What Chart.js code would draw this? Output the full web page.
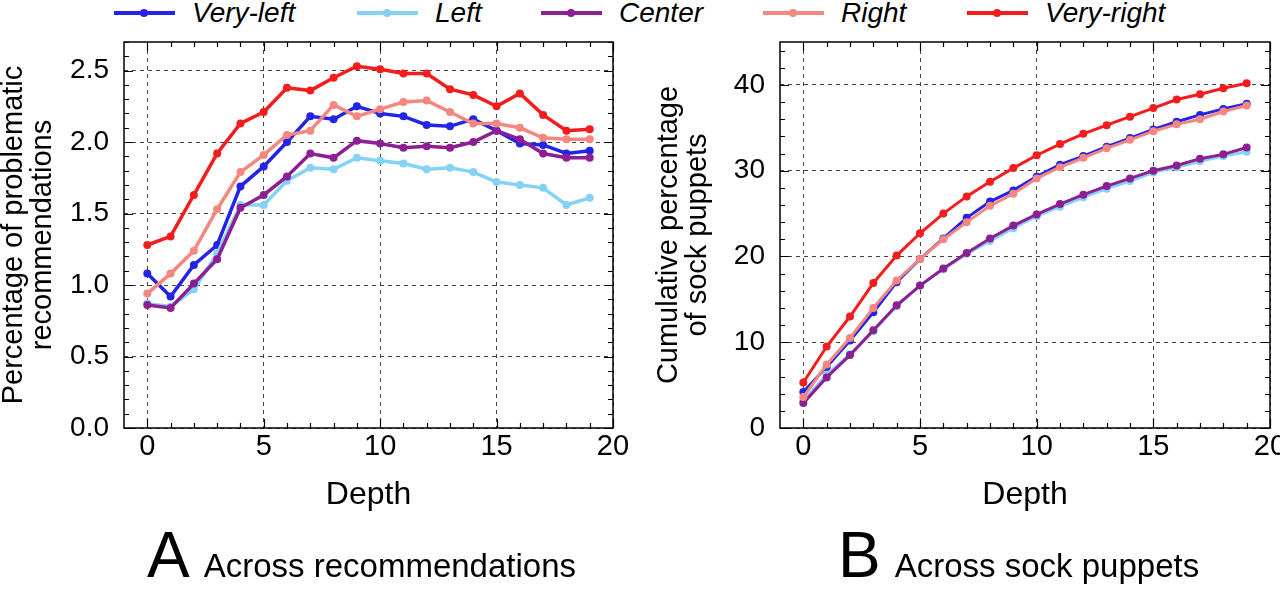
<!DOCTYPE html>
<html>
<head>
<meta charset="utf-8">
<script src="https://cdn.jsdelivr.net/npm/chart.js@4.4.1/dist/chart.umd.min.js"></script>
<style>
  body { margin: 0; width: 1280px; height: 590px; background: #fff; position: relative; overflow: hidden;
         font-family: "Liberation Sans", Arial, sans-serif; color: #000; }
  .cv { position: absolute; top: 30px; }
  #chartA { left: 0; }
  #chartB { left: 655px; }
  .leg { position: absolute; top: 0; height: 26px; display: flex; align-items: center; font-style: italic; font-size: 28px; white-space: nowrap; }
  .sw { position: relative; width: 61px; height: 4px; margin-right: 17px; }
  .sw i { position: absolute; left: 26px; top: -2px; width: 8px; height: 8px; border-radius: 50%; background: inherit; }
  .cap { position: absolute; top: 518px; display: flex; align-items: baseline; white-space: nowrap; }
  .cap b { font-weight: normal; font-size: 64px; margin-right: 14px; }
  .cap span { font-size: 33px; }
</style>
</head>
<body>
<canvas id="chartA" class="cv" width="650" height="490"></canvas>
<canvas id="chartB" class="cv" width="640" height="490"></canvas>
<div id="legend"></div>
<div class="cap" style="left:147px"><b>A</b><span>Across recommendations</span></div>
<div class="cap" style="left:838px"><b>B</b><span>Across sock puppets</span></div>
<script>
  // ---- data ----
  const depth = [0, 1, 2, 3, 4, 5, 6, 7, 8, 9, 10, 11, 12, 13, 14, 15, 16, 17, 18, 19];
  const groups = ['Very-left', 'Left', 'Center', 'Right', 'Very-right'];
  const colors = ['#2424e8', '#84d2f6', '#8c1f94', '#f4877f', '#f41c1c'];
  const legendX = [114, 357, 541, 763, 967];

  // A: percentage of problematic recommendations
  const veryLeftA  = [1.08, 0.92, 1.14, 1.28, 1.69, 1.83, 2.00, 2.18, 2.16, 2.25, 2.20, 2.18, 2.12, 2.11, 2.16, 2.08, 1.99, 1.98, 1.92, 1.94];
  const leftA      = [0.87, 0.85, 0.97, 1.22, 1.56, 1.56, 1.73, 1.82, 1.81, 1.89, 1.87, 1.85, 1.81, 1.82, 1.79, 1.72, 1.70, 1.68, 1.56, 1.61];
  const centerA    = [0.86, 0.84, 1.01, 1.18, 1.54, 1.63, 1.76, 1.92, 1.89, 2.01, 1.99, 1.96, 1.97, 1.96, 2.00, 2.08, 2.02, 1.92, 1.89, 1.89];
  const rightA     = [0.94, 1.08, 1.24, 1.53, 1.79, 1.91, 2.05, 2.08, 2.26, 2.18, 2.23, 2.28, 2.29, 2.21, 2.13, 2.13, 2.10, 2.03, 2.02, 2.02];
  const veryRightA = [1.28, 1.34, 1.63, 1.92, 2.13, 2.21, 2.38, 2.36, 2.45, 2.53, 2.51, 2.48, 2.48, 2.37, 2.33, 2.25, 2.34, 2.19, 2.08, 2.09];

  // B: cumulative percentage of sock puppets
  const veryLeftB  = [4.2, 7.1, 10.2, 13.5, 17.0, 19.7, 22.1, 24.5, 26.4, 27.7, 29.3, 30.7, 31.7, 32.8, 33.8, 34.8, 35.7, 36.5, 37.2, 37.8];
  const leftB      = [3.2, 6.2, 8.6, 11.3, 14.2, 16.6, 18.5, 20.3, 21.8, 23.3, 24.7, 25.8, 26.9, 27.9, 28.8, 29.8, 30.4, 31.1, 31.7, 32.2];
  const centerB    = [2.9, 5.9, 8.5, 11.4, 14.3, 16.6, 18.6, 20.4, 22.1, 23.6, 24.9, 26.1, 27.2, 28.2, 29.1, 30.0, 30.6, 31.4, 31.9, 32.7];
  const rightB     = [3.6, 7.4, 10.5, 14.0, 17.2, 19.7, 22.0, 24.0, 25.9, 27.3, 29.1, 30.4, 31.5, 32.6, 33.6, 34.6, 35.4, 36.0, 36.9, 37.6];
  const veryRightB = [5.3, 9.5, 13.0, 16.9, 20.1, 22.7, 25.0, 27.0, 28.7, 30.3, 31.8, 33.1, 34.3, 35.3, 36.3, 37.3, 38.3, 38.9, 39.6, 40.2];

  const xTicks  = [0, 5, 10, 15, 20];
  const yTicksA = [0, 0.5, 1.0, 1.5, 2.0, 2.5];
  const yTicksB = [0, 10, 20, 30, 40];

  Chart.defaults.font.family = '"Liberation Sans", Arial, sans-serif';
  Chart.defaults.color = '#000';

  // gnuplot-style frame with inward major/minor ticks on all four sides
  const frameTicks = {
    id: 'frameTicks',
    afterDatasetsDraw(chart, args, o) {
      const { ctx, chartArea: a, scales: { x, y } } = chart;
      ctx.save();
      ctx.strokeStyle = '#000';
      ctx.lineWidth = 1.2;
      ctx.beginPath();
      const xt = (v, len) => {
        const p = Math.round(x.getPixelForValue(v)) + 0.5;
        ctx.moveTo(p, a.bottom); ctx.lineTo(p, a.bottom - len);
        ctx.moveTo(p, a.top); ctx.lineTo(p, a.top + len);
      };
      const yt = (v, len) => {
        const p = Math.round(y.getPixelForValue(v)) + 0.5;
        ctx.moveTo(a.left, p); ctx.lineTo(a.left + len, p);
        ctx.moveTo(a.right, p); ctx.lineTo(a.right - len, p);
      };
      for (let i = 0; i * o.xMinor <= o.xMax; i++) xt(i * o.xMinor, 5);
      for (let i = 0; i * o.yMinor <= o.yMax + 1e-9; i++) yt(i * o.yMinor, 5);
      xTicks.forEach((v) => xt(v, 9));
      o.yMajor.forEach((v) => yt(v, 9));
      ctx.stroke();
      ctx.lineWidth = 1.5;
      ctx.strokeRect(a.left, a.top, a.width, a.height);
      ctx.restore();
    },
  };

  function makeChart(id, series, yTicks, yMax, yMinor, yTitle, fmt, padRight, yWidth, lw) {
    return new Chart(document.getElementById(id), {
      type: 'line',
      data: {
        datasets: series.map((vals, i) => ({
          label: groups[i],
          data: vals.map((v, k) => ({ x: depth[k], y: v })),
          borderColor: colors[i],
          backgroundColor: colors[i],
          pointBackgroundColor: colors[i],
          borderWidth: lw,
          pointRadius: 4,
          pointBorderWidth: 0,
          tension: 0,
          order: series.length - i,
        })),
      },
      options: {
        responsive: false,
        animation: false,
        events: [],
        layout: { padding: { top: 12, right: padRight, left: 0, bottom: 0 } },
        plugins: {
          legend: { display: false },
          tooltip: { enabled: false },
          frameTicks: { xMinor: 1, xMax: 20, yMinor, yMax, yMajor: yTicks },
        },
        scales: {
          x: {
            type: 'linear', min: -1, max: 20,
            afterBuildTicks: (s) => { s.ticks = xTicks.map((v) => ({ value: v })); },
            afterFit: (s) => { s.height = 92; s.paddingLeft = 0; s.paddingRight = 0; },
            ticks: { font: { size: 29 }, padding: 2, maxRotation: 0, autoSkip: false },
            grid: { color: '#444', lineWidth: 1, drawTicks: false },
            border: { display: false, dash: [4, 4] },
            title: { display: true, text: 'Depth', font: { size: 32 }, padding: { top: 0, bottom: 6 } },
          },
          y: {
            type: 'linear', min: 0, max: yMax,
            afterBuildTicks: (s) => { s.ticks = yTicks.map((v) => ({ value: v })); },
            afterFit: (s) => { s.width = yWidth; s.paddingTop = 0; s.paddingBottom = 0; },
            ticks: { font: { size: 28 }, padding: 15, callback: fmt, autoSkip: false },
            grid: { color: '#444', lineWidth: 1, drawTicks: false },
            border: { display: false, dash: [4, 4] },
            title: { display: true, text: yTitle, font: { size: 29, lineHeight: 0.98 }, padding: { top: 0, bottom: 0 } },
          },
        },
      },
      plugins: [frameTicks],
    });
  }

  makeChart('chartA', [veryLeftA, leftA, centerA, rightA, veryRightA], yTicksA, 2.7, 0.1,
    ['Percentage of problematic', 'recommendations'], (v) => v.toFixed(1), 37, 124, 3.5);
  makeChart('chartB', [veryLeftB, leftB, centerB, rightB, veryRightB], yTicksB, 45, 2,
    ['Cumulative percentage', 'of sock puppets'], (v) => String(v), 25, 125, 3);

  // shared legend across the top
  const legend = document.getElementById('legend');
  groups.forEach((g, i) => {
    const item = document.createElement('div');
    item.className = 'leg';
    item.style.left = legendX[i] + 'px';
    const sw = document.createElement('div');
    sw.className = 'sw';
    sw.style.background = colors[i];
    sw.appendChild(document.createElement('i'));
    const txt = document.createElement('span');
    txt.textContent = g;
    item.appendChild(sw);
    item.appendChild(txt);
    legend.appendChild(item);
  });
</script>
</body>
</html>
